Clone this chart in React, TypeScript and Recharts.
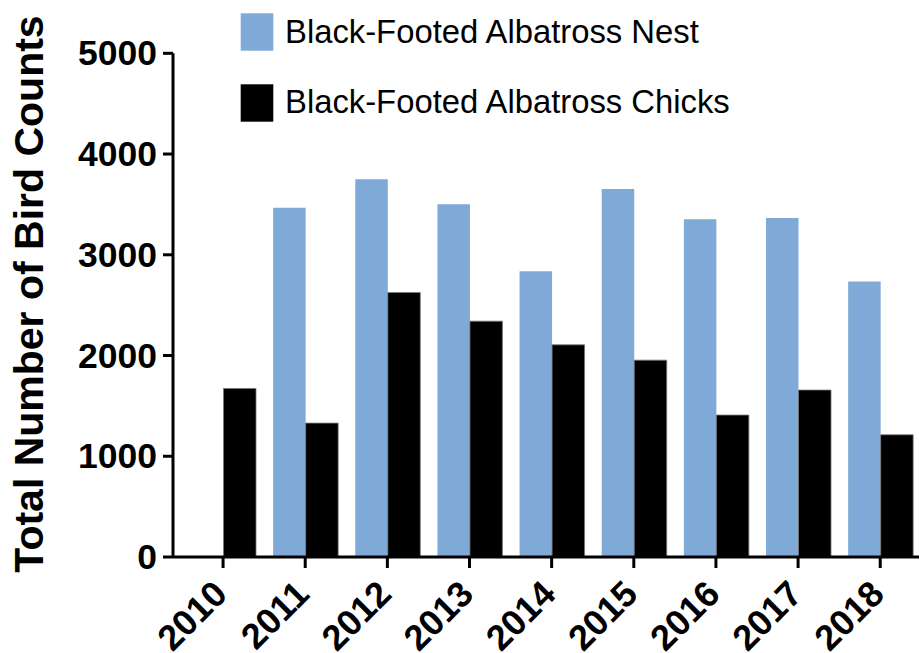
import React from "react";
import { BarChart, Bar, XAxis, YAxis, Legend } from "recharts";

const years = ["2010", "2011", "2012", "2013", "2014", "2015", "2016", "2017", "2018"];
const nestCounts: (number | null)[] = [null, 3468, 3750, 3502, 2837, 3654, 3353, 3366, 2734];
const chickCounts: number[] = [1673, 1329, 2625, 2341, 2106, 1954, 1409, 1657, 1213];
const yTicks = [0, 1000, 2000, 3000, 4000, 5000];
const seriesOrder = ["nest", "chicks"];

const NEST_NAME = "Black-Footed Albatross Nest";
const CHICK_NAME = "Black-Footed Albatross Chicks";
const NEST_COLOR = "#7FAAD7";
const CHICK_COLOR = "#000000";

const data = years.map((y, i) => ({ year: y, nest: nestCounts[i], chicks: chickCounts[i] }));

const FONT = "'Liberation Sans', Arial, Helvetica, sans-serif";

const XTick = (props: any) => {
  const { x, y, payload } = props;
  const px = x + 6;
  const py = y + 26;
  return (
    <text
      x={px}
      y={py}
      transform={`rotate(-45, ${px}, ${py})`}
      textAnchor="end"
      fontFamily={FONT}
      fontWeight="bold"
      fontSize={36}
      fill="#000"
    >
      {payload.value}
    </text>
  );
};

const YTick = (props: any) => {
  const { x, y, payload } = props;
  return (
    <text
      x={x}
      y={y}
      dy={12}
      textAnchor="end"
      fontFamily={FONT}
      fontWeight="bold"
      fontSize={35.5}
      fill="#000"
    >
      {payload.value}
    </text>
  );
};

const LegendContent = (props: any) => {
  const payload = [...(props.payload || [])].sort(
    (a: any, b: any) => seriesOrder.indexOf(a.dataKey) - seriesOrder.indexOf(b.dataKey)
  );
  return (
    <svg width={600} height={130} style={{ display: "block" }}>
      {payload.map((p: any, i: number) => (
        <g key={i}>
          <rect x={0.7} y={13.3 + i * 71} width={32.6} height={37.4} fill={p.color} />
          <text
            x={45}
            y={43.3 + i * 70}
            fontFamily={FONT}
            fontSize={32.8}
            fill="#000"
          >
            {p.value}
          </text>
        </g>
      ))}
    </svg>
  );
};

const YLabel = () => (
  <text
    x={29}
    y={294}
    transform="rotate(-90, 29, 294)"
    textAnchor="middle"
    dominantBaseline="central"
    fontFamily={FONT}
    fontWeight="bold"
    fontSize={41}
    fill="#000"
  >
    Total Number of Bird Counts
  </text>
);

export default function App() {
  return (
    <div
      style={{
        position: "absolute",
        left: 0,
        top: 0,
        width: 919,
        height: 653,
        overflow: "hidden",
        background: "#fff",
      }}
    >
      <BarChart
        width={930}
        height={653}
        data={data}
        margin={{ top: 53.3, right: 8.7, left: 0, bottom: 0 }}
        barGap={0}
        barSize={32.5}
      >
        <XAxis
          dataKey="year"
          height={96}
          padding={{ left: 9, right: 0 }}
          tick={<XTick />}
          tickSize={11}
          tickMargin={2}
          axisLine={{ stroke: "#000", strokeWidth: 3 }}
          tickLine={{ stroke: "#000", strokeWidth: 3 }}
          interval={0}
        />
        <YAxis
          width={173}
          domain={[0, 5000]}
          ticks={yTicks}
          tick={<YTick />}
          tickSize={10}
          tickMargin={6}
          axisLine={{ stroke: "#000", strokeWidth: 3 }}
          tickLine={{ stroke: "#000", strokeWidth: 3 }}
          label={<YLabel />}
        />
        <Legend
          layout="horizontal"
          verticalAlign="middle"
          align="center"
          content={<LegendContent />}
          wrapperStyle={{ position: "absolute", left: 240, top: 0, width: 600, height: 130 }}
        />
        <Bar dataKey="nest" name={NEST_NAME} fill={NEST_COLOR} isAnimationActive={false} />
        <Bar
          dataKey="chicks"
          name={CHICK_NAME}
          fill={CHICK_COLOR}
          stroke="#777"
          strokeWidth={0.8}
          isAnimationActive={false}
        />
      </BarChart>
    </div>
  );
}
